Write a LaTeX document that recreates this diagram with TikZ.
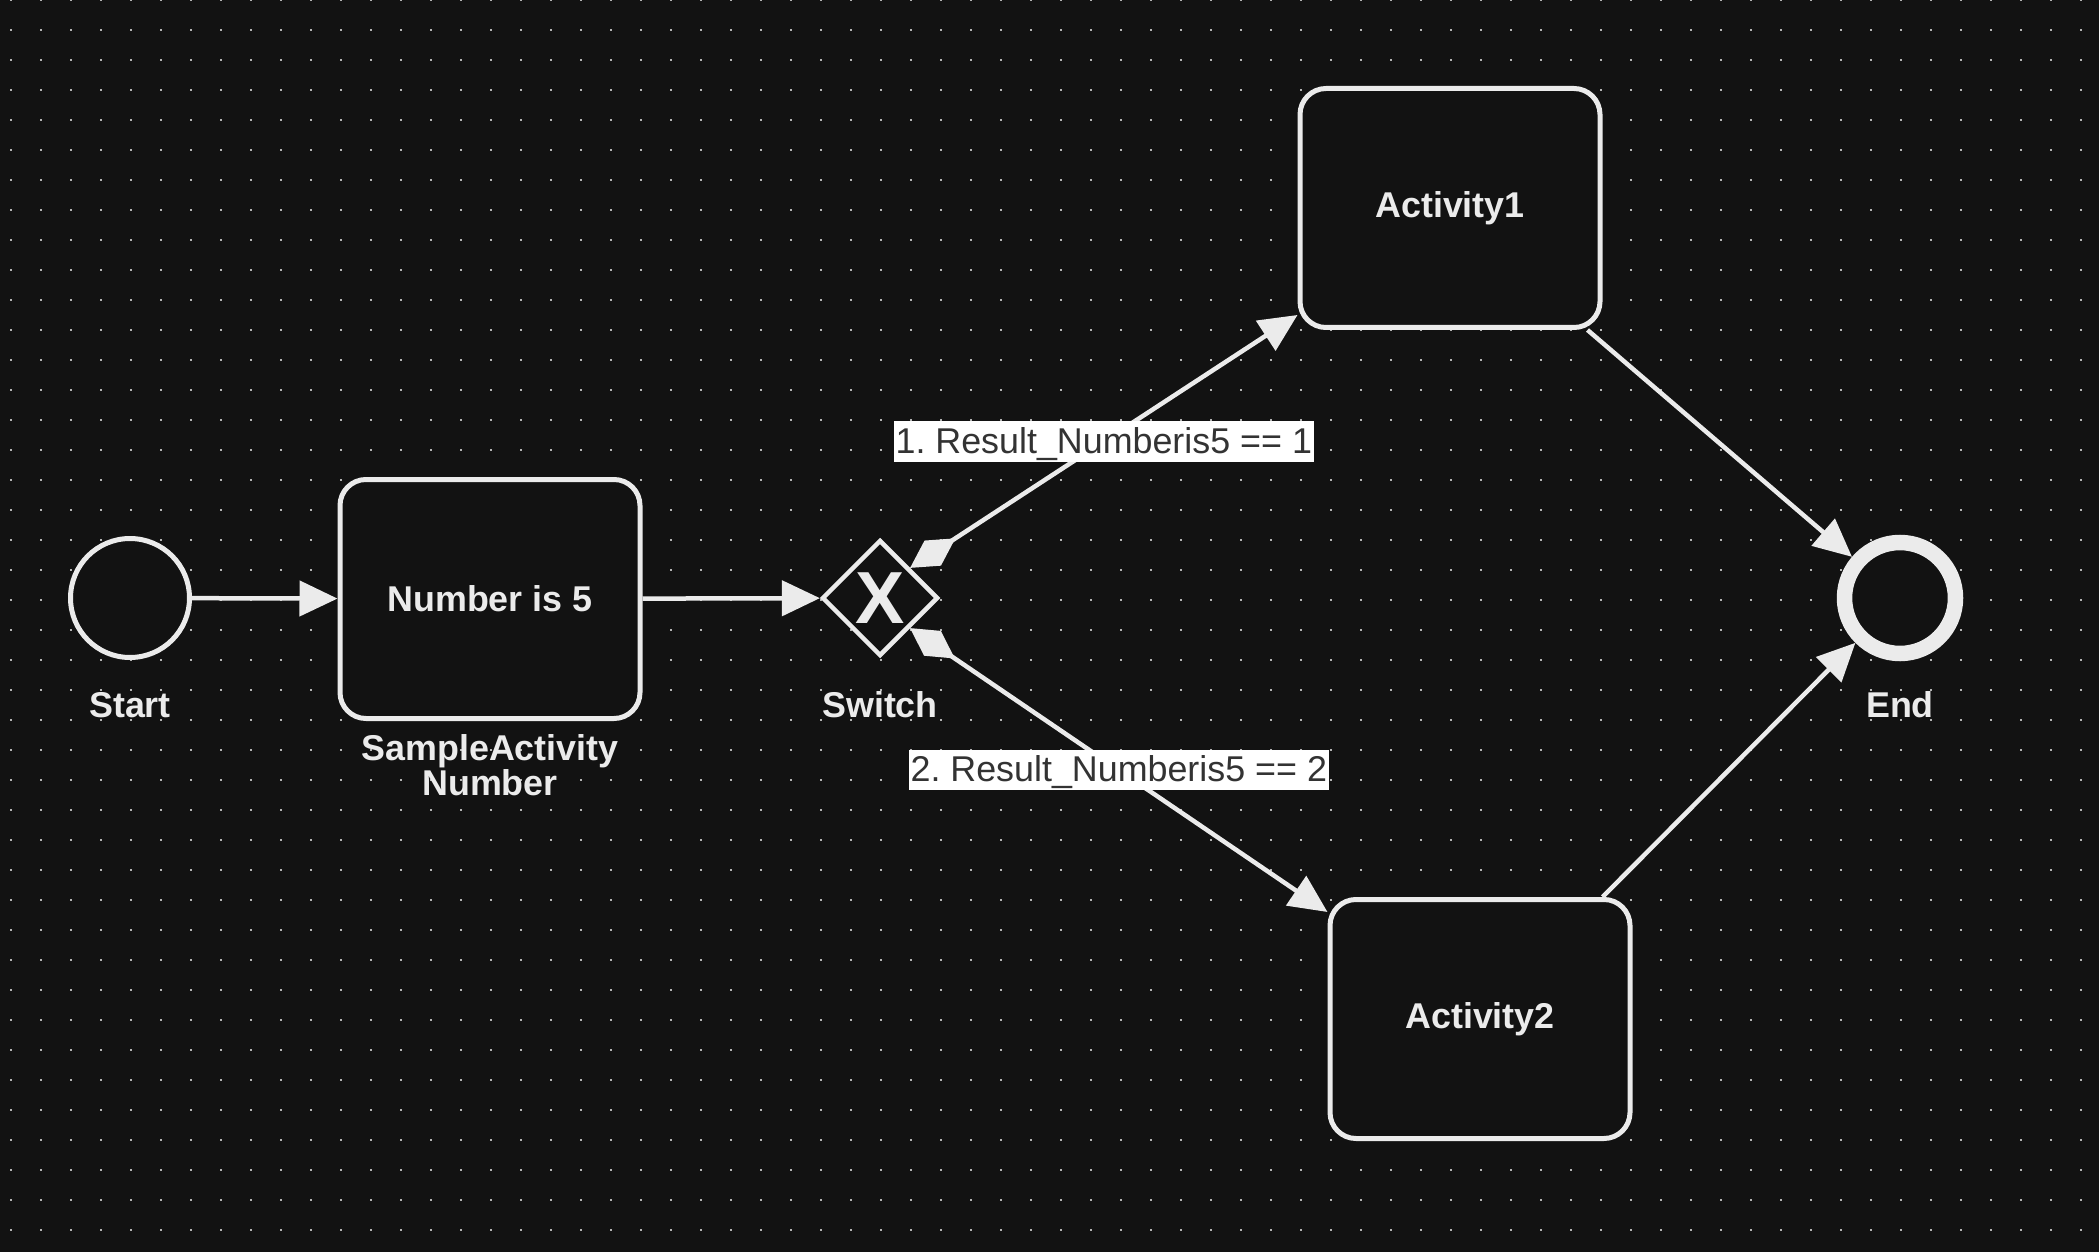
\documentclass[tikz,border=0pt]{standalone}
\usepackage{fontspec}
\setmainfont{Liberation Sans}
\usetikzlibrary{arrows.meta,shapes.geometric}
\definecolor{bg}{HTML}{121212}
\definecolor{fg}{HTML}{EBEBEB}
\definecolor{dotgray}{HTML}{B4B4B4}
\definecolor{condtext}{HTML}{333333}

\begin{document}
\begin{tikzpicture}[x=0.1mm,y=-0.1mm,
    every node/.style={font=\fontsize{10.2pt}{10pt}\selectfont\bfseries,text=fg},
    event/.style={circle,draw=fg,fill=bg,line width=0.5mm,minimum size=11.9mm,inner sep=0},
    endevent/.style={event,line width=1.55mm,minimum size=11.1mm},
    task/.style={rectangle,rounded corners=2.6mm,draw=fg,fill=bg,line width=0.5mm,
      minimum width=30mm,minimum height=23.9mm},
    gateway/.style={diamond,draw=fg,fill=bg,line width=0.45mm,minimum size=11.6mm,inner sep=0,
      font=\fontsize{21pt}{21pt}\selectfont\bfseries},
    flow/.style={draw=fg,line width=0.45mm,-{Triangle[length=3.8mm,width=3.5mm]}},
    condflow/.style={flow,{Diamond[length=5.4mm,width=3mm]}-{Triangle[length=3.8mm,width=3.5mm]}},
    cond/.style={fill=white,text=condtext,font=\fontsize{10.2pt}{10pt}\selectfont\frenchspacing,
      inner xsep=0.2mm,inner ysep=0,text height=3.2mm,text depth=0.85mm},
    dots/.style={draw=dotgray,line width=0.12mm,dash pattern=on 0.12mm off 2.88mm}]
        % background grid
        \fill[bg] (0,0) rectangle (2099,1252);
        \useasboundingbox (0,0) rectangle (2099,1252);
        \foreach \y in {0,30,...,1230}
          \draw[dots] (10.4,\y) -- (2099,\y);
        % elements
        \node[event] (start) at (130,598) {};
        \node[task] (num) at (490,599) {Number is 5};
        \node[gateway] (gw) at (880,598) {X};
        \node[task] (act1) at (1450,208) {Activity1};
        \node[task] (act2) at (1480,1019) {Activity2};
        \node[endevent] (finish) at (1900,598) {};
        % names
        \node (startlbl) at (130,705) {Start};
        \node[align=center] (numlbl) at (490,765) {SampleActivity\\Number};
        \node (gwlbl) at (880,705) {Switch};
        \node (finishlbl) at (1900,705) {End};
        % flows
        \draw[flow] (start) -- (num);
        \draw[flow] (num) -- (gw);
        \draw[condflow] (gw.north east) -- node[cond] (cond1) {1. Result\_Numberis5 == 1}
          ([yshift=1.5mm]act1.south west);
        \draw[condflow] (gw.south east) -- node[cond] (cond2) {2. Result\_Numberis5 == 2}
          ([yshift=-1.5mm]act2.north west);
        \draw[flow] ([xshift=-1.5mm]act1.south east) -- (finish);
        \draw[flow] ([xshift=-3mm]act2.north east) -- (finish);
      \end{tikzpicture}
\end{document}
